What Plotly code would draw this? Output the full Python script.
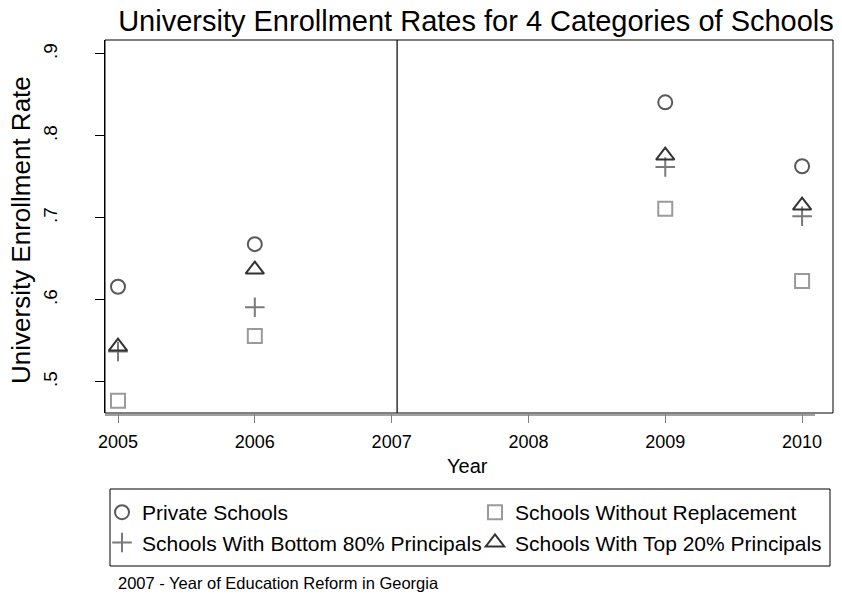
import plotly.graph_objects as go

years = [2005, 2006, 2009, 2010]
private = [0.616, 0.668, 0.841, 0.763]
without_repl = [0.477, 0.556, 0.711, 0.623]
bottom80 = [0.537, 0.591, 0.762, 0.702]
top20 = [0.543, 0.637, 0.776, 0.715]

xticks = [2005, 2006, 2007, 2008, 2009, 2010]
yticks = [0.5, 0.6, 0.7, 0.8, 0.9]
ytick_labels = [".5", ".6", ".7", ".8", ".9"]
reform_year = 2007.04

FONT = "Liberation Sans, Arial, sans-serif"

W, H = 842, 597
L, R, T, B = 105, 833, 40, 413  # plot area pixels
pw, ph = R - L, B - T

def px(xp):
    return (xp - L) / pw

def py(yp):
    return (B - yp) / ph

fig = go.Figure()
fig.add_trace(go.Scatter(x=years, y=private, mode="markers", name="Private Schools", legend="legend",
                         marker=dict(symbol="circle-open", size=14, color="#595959",
                                     line=dict(width=2, color="#595959"))))
fig.add_trace(go.Scatter(x=years, y=without_repl, mode="markers", name="Schools Without Replacement",
                         legend="legend2",
                         marker=dict(symbol="square-open", size=14, color="#9a9a9a",
                                     line=dict(width=2, color="#9a9a9a"))))
fig.add_trace(go.Scatter(x=years, y=bottom80, mode="markers", name="Schools With Bottom 80% Principals",
                         legend="legend",
                         marker=dict(symbol="cross-thin-open", size=14, color="#7a7a7a",
                                     line=dict(width=2, color="#7a7a7a"))))
fig.add_trace(go.Scatter(x=years, y=top20, mode="markers", name="Schools With Top 20% Principals",
                         legend="legend2",
                         marker=dict(symbol="triangle-up-open", size=16, color="#333333",
                                     line=dict(width=2, color="#333333"))))

shapes = [
    # plot region frame
    dict(type="rect", xref="paper", yref="paper", x0=0, x1=1, y0=0, y1=1,
         line=dict(color="black", width=1)),
    # reform year line
    dict(type="line", xref="x", yref="paper", x0=reform_year, x1=reform_year, y0=0, y1=1,
         line=dict(color="black", width=1.2)),
    # gray x axis line
    dict(type="line", xref="paper", yref="paper", x0=0, x1=px(815), y0=-0.0055, y1=-0.0055,
         line=dict(color="#808080", width=1.5)),
    # legend box
    dict(type="rect", xref="paper", yref="paper", x0=px(110), x1=px(830), y0=py(566), y1=py(489),
         line=dict(color="black", width=1), fillcolor="rgba(0,0,0,0)"),
]

annotations = [
    dict(text="University Enrollment Rate", xref="paper", yref="paper", x=px(21), y=py(230),
         textangle=-90, showarrow=False, font=dict(size=26, color="black", family=FONT),
         xanchor="center", yanchor="middle"),
    dict(text="Year", xref="paper", yref="paper", x=px(467), y=py(466), showarrow=False,
         font=dict(size=20, color="black", family=FONT), xanchor="center", yanchor="middle"),
    dict(text="2007 - Year of Education Reform in Georgia", xref="paper", yref="paper",
         x=px(116), y=py(583), showarrow=False, font=dict(size=16.5, color="black", family=FONT),
         xanchor="left", yanchor="middle"),
]

legend_common = dict(orientation="v", xanchor="left", yanchor="top",
                     font=dict(size=21, color="black", family=FONT),
                     bgcolor="rgba(0,0,0,0)", borderwidth=0, tracegroupgap=0)

fig.update_layout(
    width=W, height=H,
    margin=dict(l=L, r=W - R, t=T, b=H - B, autoexpand=False),
    paper_bgcolor="white", plot_bgcolor="white",
    font=dict(family=FONT, color="black"),
    title=dict(text="University Enrollment Rates for 4 Categories of Schools",
               x=476 / W, xanchor="center", y=1 - 21 / H, yanchor="middle",
               font=dict(size=29, color="black", family=FONT)),
    xaxis=dict(range=[2004.905, 2010.226], tickvals=xticks, ticks="outside", ticklen=9,
               tickcolor="#808080", tickwidth=1, showgrid=False, zeroline=False, showline=False,
               ticklabelstandoff=3, tickfont=dict(size=18, color="black")),
    yaxis=dict(range=[0.462, 0.917], tickvals=yticks, ticktext=ytick_labels, ticks="outside",
               ticklen=9, tickcolor="black", tickwidth=1, showgrid=False, zeroline=False,
               showline=True, linecolor="black", tickangle=-90, ticklabelstandoff=30,
               tickfont=dict(size=19, color="black")),
    legend=dict(x=px(102), y=py(492), **legend_common),
    legend2=dict(x=px(475), y=py(492), **legend_common),
    shapes=shapes,
    annotations=annotations,
    showlegend=True,
)

fig.write_html("out.html")
